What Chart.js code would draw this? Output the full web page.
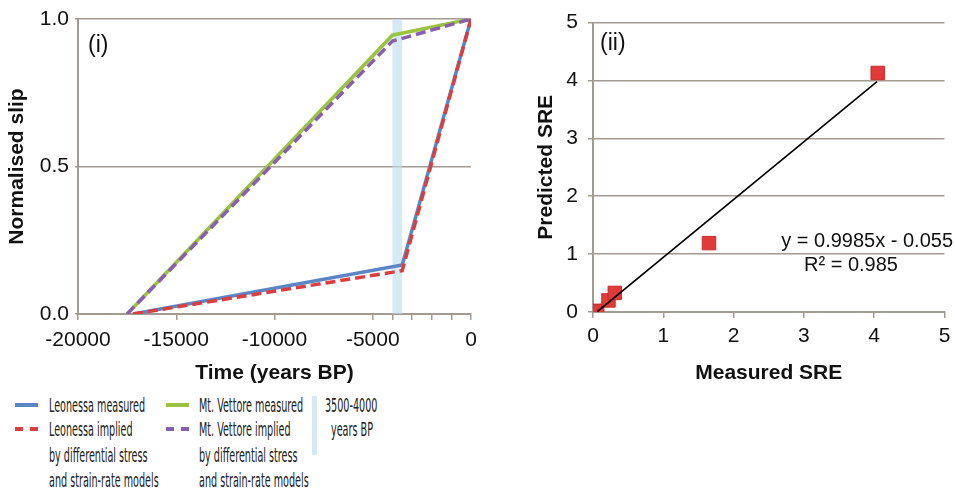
<!DOCTYPE html>
<html>
<head>
<meta charset="utf-8">
<script src="https://cdn.jsdelivr.net/npm/chart.js@4.4.1/dist/chart.umd.min.js"></script>
<style>
  body { margin: 0; background: #fff; width: 955px; height: 488px; position: relative; overflow: hidden; font-family: "Liberation Sans", Arial, sans-serif; }
  #wrapL { position: absolute; left: 0; top: 0; width: 480px; height: 390px; }
  #wrapR { position: absolute; left: 520px; top: 0; width: 435px; height: 390px; }
  .lg { position: absolute; font-family: "Liberation Sans Narrow", "DejaVu Sans Condensed", sans-serif; font-size: 20px; color: #222; white-space: nowrap; transform-origin: left center; transform: scaleX(0.535); line-height: 20px; }
  .sw { position: absolute; width: 23px; height: 0; }
</style>
</head>
<body>
<div id="wrapL"><canvas id="slipChart" width="480" height="390"></canvas></div>
<div id="wrapR"><canvas id="sreChart" width="435" height="390"></canvas></div>

<!-- legend -->
<div class="sw" style="left:15px;top:403px;border-top:4px solid #5b86c5;"></div>
<div class="sw" style="left:15px;top:427px;border-top:4px dashed #dc3d3d;"></div>
<div class="lg" style="left:49px;top:395px;">Leonessa measured</div>
<div class="lg" style="left:49px;top:419px;">Leonessa implied</div>
<div class="lg" style="left:49px;top:445px;">by differential stress</div>
<div class="lg" style="left:49px;top:470px;">and strain-rate models</div>
<div class="sw" style="left:166px;top:403px;border-top:4px solid #9ac43e;"></div>
<div class="sw" style="left:166px;top:427px;border-top:4px dashed #8a5db0;"></div>
<div class="lg" style="left:199px;top:395px;">Mt. Vettore measured</div>
<div class="lg" style="left:199px;top:419px;">Mt. Vettore implied</div>
<div class="lg" style="left:199px;top:445px;">by differential stress</div>
<div class="lg" style="left:199px;top:470px;">and strain-rate models</div>
<div style="position:absolute;left:312px;top:396px;width:5px;height:59px;background:#d4e9f4;"></div>
<div class="lg" style="left:325px;top:395px;">3500-4000</div>
<div class="lg" style="left:331px;top:419px;">years BP</div>

<script>
// panel (i): normalised slip vs time
var leonessaMeasured = [[-17200, 0], [-3500, 0.166], [0, 1]];
var leonessaImplied = [[-17200, 0], [-3500, 0.147], [0, 1]];
var vettoreMeasured = [[-17500, 0], [-4000, 0.945], [0, 1]];
var vettoreImplied = [[-17500, 0], [-4000, 0.925], [0, 1]];
var bandRange = [-4000, -3500];
var slipTicks = [0, 0.5, 1.0];

// panel (ii): predicted vs measured SRE
var measuredSRE = [0.03, 0.06, 0.22, 0.31, 1.65, 4.05];
var predictedSRE = [0.02, 0.01, 0.2, 0.33, 1.19, 4.13];
var trendSlope = 0.9985;
var trendIntercept = -0.055;
var trendRange = [0.06, 4.04];

var gridGrey = '#a39a91';
var tickFont = { family: '"Liberation Sans", Arial, sans-serif', size: 21 };
var titleFont = { family: '"Liberation Sans", Arial, sans-serif', size: 21, weight: 'bold' };

function pts(arr) {
  return arr.map(function(p) { return { x: p[0], y: p[1] }; });
}

var bandPlugin = {
  id: 'band',
  beforeDatasetsDraw: function(chart) {
    var xs = chart.scales.x, a = chart.chartArea, ctx = chart.ctx;
    var x1 = xs.getPixelForValue(bandRange[0]), x2 = xs.getPixelForValue(bandRange[1]);
    ctx.save();
    ctx.fillStyle = 'rgba(190,222,238,0.65)';
    ctx.fillRect(x1, a.top, x2 - x1, a.bottom - a.top);
    ctx.restore();
  }
};

function labelPlugin(id, draws) {
  return {
    id: id,
    afterDraw: function(chart) {
      var ctx = chart.ctx;
      ctx.save();
      ctx.fillStyle = '#111';
      ctx.textBaseline = 'middle';
      draws.forEach(function(d) {
        ctx.font = d.font;
        ctx.textAlign = d.align || 'left';
        ctx.fillText(d.text, d.x, d.y);
      });
      ctx.restore();
    }
  };
}

new Chart(document.getElementById('slipChart'), {
  type: 'scatter',
  data: {
    datasets: [
      { label: 'Leonessa implied', data: pts(leonessaImplied), borderColor: '#dc3d3d', borderDash: [10, 5] },
      { label: 'Leonessa measured', data: pts(leonessaMeasured), borderColor: '#5b86c5' },
      { label: 'Mt. Vettore implied', data: pts(vettoreImplied), borderColor: '#8a5db0', borderDash: [10, 5] },
      { label: 'Mt. Vettore measured', data: pts(vettoreMeasured), borderColor: '#9ac43e' }
    ].map(function(d) {
      d.showLine = true; d.borderWidth = 3.5; d.pointRadius = 0; d.tension = 0; d.fill = false;
      return d;
    })
  },
  options: {
    responsive: false,
    animation: false,
    layout: { padding: { left: 0, right: 9, top: 19, bottom: 0 } },
    plugins: { legend: { display: false }, tooltip: { enabled: false } },
    scales: {
      x: {
        type: 'linear', min: -20000, max: 0,
        afterBuildTicks: function(s) {
          s.ticks = [];
          for (var v = -20000; v <= 0; v += 1000) s.ticks.push({ value: v });
        },
        afterFit: function(s) { s.height = 76; s.paddingRight = 0; s.paddingLeft = 0; },
        ticks: {
          autoSkip: false, maxRotation: 0, padding: 8, color: '#111', font: tickFont,
          callback: function(v) { return v % 5000 === 0 ? String(v) : ''; }
        },
        grid: {
          drawOnChartArea: false, tickLength: 6, lineWidth: 1.5,
          tickColor: function(c) { return (c.tick && (c.tick.value % 5000 === 0 || c.tick.value > -5000)) ? gridGrey : 'rgba(0,0,0,0)'; }
        },
        border: { color: gridGrey, width: 2 },
        title: { display: true, text: 'Time (years BP)', color: '#111', font: titleFont, padding: { top: 0, bottom: 4 } }
      },
      y: {
        min: 0, max: 1,
        afterBuildTicks: function(s) { s.ticks = slipTicks.map(function(v) { return { value: v }; }); },
        afterFit: function(s) { s.width = 78; },
        ticks: { color: '#111', font: tickFont, padding: 6, callback: function(v) { return v.toFixed(1); } },
        grid: { color: gridGrey, lineWidth: 1.5, tickLength: 3 },
        border: { color: gridGrey, width: 2 },
        title: { display: true, text: 'Normalised slip', color: '#111', font: titleFont, padding: { top: 5, bottom: 0 } }
      }
    }
  },
  plugins: [bandPlugin, labelPlugin('lblI', [
    { text: '(i)', x: 88, y: 46, font: '23px "Liberation Sans", Arial, sans-serif' }
  ])]
});

var srePoints = measuredSRE.map(function(x, i) { return { x: x, y: predictedSRE[i] }; });
var trendPoints = trendRange.map(function(x) { return { x: x, y: trendSlope * x + trendIntercept }; });

new Chart(document.getElementById('sreChart'), {
  type: 'scatter',
  data: {
    datasets: [
      { label: 'Linear', data: trendPoints, showLine: true, borderColor: '#000', borderWidth: 1.6, pointRadius: 0 },
      { label: 'SRE', data: srePoints, pointStyle: 'rect', pointRadius: 9.5,
        backgroundColor: '#e23a3a', borderColor: '#c92a2a', borderWidth: 1 }
    ]
  },
  options: {
    responsive: false,
    animation: false,
    layout: { padding: { left: 0, right: 8, top: 21, bottom: 0 } },
    plugins: { legend: { display: false }, tooltip: { enabled: false } },
    scales: {
      x: {
        min: 0, max: 5,
        ticks: { stepSize: 1, color: '#111', font: tickFont, padding: 6, maxRotation: 0 },
        afterFit: function(s) { s.height = 78; s.paddingRight = 0; s.paddingLeft = 0; },
        grid: { drawOnChartArea: false, tickLength: 6, color: gridGrey, lineWidth: 1.5 },
        border: { color: gridGrey, width: 2 },
        title: { display: true, text: 'Measured SRE', color: '#111', font: titleFont, padding: { top: 0, bottom: 4 } }
      },
      y: {
        min: 0, max: 5,
        ticks: { stepSize: 1, color: '#111', font: tickFont, padding: 10 },
        afterFit: function(s) { s.width = 73; },
        grid: { color: gridGrey, lineWidth: 1.5, tickLength: 5 },
        border: { color: gridGrey, width: 2 },
        title: { display: true, text: 'Predicted SRE', color: '#111', font: titleFont, padding: { top: 14, bottom: 0 } }
      }
    }
  },
  plugins: [labelPlugin('lblII', [
    { text: '(ii)', x: 80, y: 44, font: '23px "Liberation Sans", Arial, sans-serif' },
    { text: 'y = 0.9985x - 0.055', x: 433, y: 241, align: 'right', font: '20px "Liberation Sans", Arial, sans-serif' },
    { text: 'R\u00b2 = 0.985', x: 331, y: 265, align: 'center', font: '20px "Liberation Sans", Arial, sans-serif' }
  ])]
});
</script>
</body>
</html>
